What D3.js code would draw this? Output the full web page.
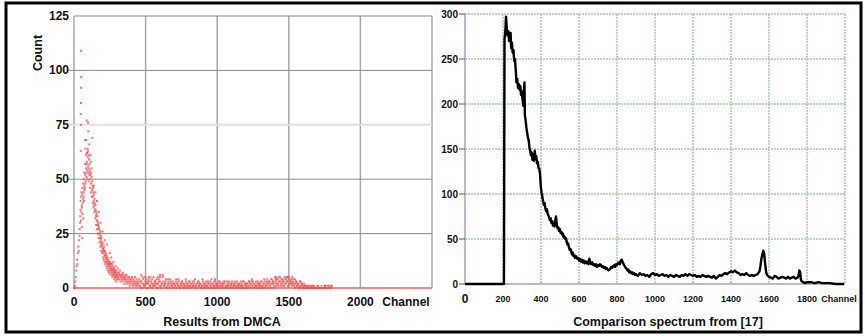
<!DOCTYPE html>
<html>
<head>
<meta charset="utf-8">
<script src="https://cdn.jsdelivr.net/npm/d3@7"></script>
<style>
  body { margin: 0; background: #fff; }
  text { font-family: "Liberation Sans", Arial, sans-serif; font-weight: bold; fill: #111; }
</style>
</head>
<body>
<div id="chart"></div>
<script>
// ---------- data: left panel (DMCA counts per channel) ----------
var dmcaTicksX = [0, 500, 1000, 1500, 2000];
var dmcaTicksY = [0, 25, 50, 75, 100, 125];
// counts for channels 0..450, every 3 channels
var peakStart = 0, peakStep = 3;
var peakCounts = [0, 0, 1, 3, 5, 8, 10, 13, 11, 16, 19, 17, 22, 24, 30, 36, 42, 35, 38, 43,
  34, 41, 44, 50, 47, 46, 52, 49, 55, 51, 58, 54, 60, 56, 53, 59, 52, 54, 50, 53,
  48, 51, 45, 47, 42, 44, 40, 38, 41, 36, 38, 33, 35, 31, 33, 29, 30, 27, 28, 25,
  23, 26, 22, 20, 23, 19, 21, 17, 18, 16, 19, 15, 17, 14, 16, 13, 15, 12, 14, 11,
  13, 10, 12, 9, 11, 10, 8, 11, 9, 7, 10, 8, 6, 9, 7, 8, 5, 7, 6, 8,
  5, 7, 4, 6, 5, 7, 4, 6, 3, 5, 6, 4, 5, 3, 6, 4, 5, 2, 4, 5,
  3, 4, 6, 2, 3, 5, 4, 2, 3, 5, 1, 4, 3, 2, 4, 5, 3, 1, 2, 4,
  3, 2, 5, 1, 3, 2, 4, 1, 2, 3, 2];
// counts for channels 40..298, every 3 channels (the in-between channels)
var peak2Start = 40, peak2Step = 3;
var peakCounts2 = [27, 33, 40, 31, 44, 37, 46, 39, 48, 42, 53, 45, 57, 48, 61, 53, 57, 62, 50, 63,
  55, 61, 49, 57, 46, 52, 44, 55, 42, 49, 39, 46, 37, 43, 35, 39, 32, 36, 29, 34,
  27, 31, 25, 29, 23, 27, 21, 25, 19, 24, 17, 21, 16, 20, 14, 18, 13, 17, 12, 15,
  11, 14, 10, 12, 9, 13, 8, 11, 7, 10, 8, 12, 6, 9, 7, 11, 5, 8, 6, 9,
  4, 7, 5, 8, 3, 6, 4];
// counts for channels 456..1800, every 6 channels
var tailStart = 456, tailStep = 6;
var tailCounts = [4, 1, 3, 0, 5, 2, 1, 3, 4, 2, 0, 3, 1, 5, 2, 4, 1, 2, 3,
  1, 4, 2, 0, 3, 5, 1, 2, 6, 3, 1, 2, 4, 0, 2, 3, 1, 4, 2, 1,
  3, 0, 2, 1, 4, 2, 1, 3, 0, 2, 1, 3, 2, 0, 1, 4, 2, 1, 0, 3,
  1, 2, 0, 3, 1, 2, 4, 1, 0, 2, 3, 1, 2, 0, 1, 3, 2, 1, 0, 2,
  1, 3, 0, 2, 1, 4, 2, 0, 1, 3, 2, 1, 0, 2, 3, 1, 0, 2, 1, 3,
  2, 0, 1, 3, 1, 2, 0, 1, 2, 3, 0, 1, 2, 1, 0, 3, 1, 2, 0, 1,
  2, 1, 3, 0, 2, 1, 0, 2, 1, 3, 2, 0, 4, 1, 2, 0, 1, 3, 1, 2,
  0, 2, 1, 3, 1, 0, 2, 3, 1, 2, 4, 1, 3, 2, 0, 4, 2, 3, 1, 5,
  3, 2, 4, 1, 5, 3, 2, 4, 1, 3, 5, 2, 4, 3, 1, 5, 2, 3, 4, 2,
  3, 1, 4, 2, 3, 1, 2, 0, 3, 1, 2, 1, 0, 2, 1, 0, 1, 0, 1, 0,
  0, 1, 0, 0, 1, 0, 0, 0, 1, 0, 0, 0, 0, 1, 0, 0, 0, 1, 0, 0,
  1, 0, 0, 0, 0, 1];
// counts for channels 459..1797, every 6 channels
var tail2Start = 459, tail2Step = 6;
var tailCounts2 = [1, 3, 0, 2, 4, 1, 5, 2, 0, 3, 2, 4, 1, 3, 0, 2, 5, 1, 3, 2,
  0, 2, 4, 1, 3, 0, 2, 5, 1, 2, 3, 0, 1, 4, 2, 0, 3, 1, 2, 0,
  2, 1, 3, 0, 2, 4, 1, 0, 2, 3, 1, 0, 2, 1, 3, 0, 2, 1, 3, 1,
  0, 2, 1, 3, 0, 1, 2, 0, 3, 1, 2, 0, 1, 4, 0, 2, 1, 3, 0, 1,
  2, 0, 3, 1, 0, 2, 1, 3, 0, 1, 2, 0, 1, 3, 2, 0, 1, 2, 0, 3,
  1, 0, 2, 1, 3, 0, 2, 1, 0, 2, 1, 3, 0, 2, 1, 0, 2, 1, 3, 0,
  1, 3, 0, 2, 1, 2, 0, 3, 1, 0, 2, 1, 3, 0, 2, 1, 0, 2, 3, 1,
  2, 0, 3, 1, 2, 4, 0, 1, 3, 2, 0, 3, 1, 4, 2, 3, 0, 2, 4, 1,
  4, 2, 3, 5, 1, 4, 2, 3, 1, 4, 2, 5, 3, 1, 4, 2, 3, 1, 2, 4,
  2, 0, 3, 1, 2, 0, 1, 3, 0, 2, 0, 1, 0, 1, 0, 0, 1, 0, 0, 1,
  0, 0, 1, 0, 0, 0, 0, 0, 1, 0, 0, 0, 0, 0, 0, 0, 1, 0, 0, 0,
  0, 0, 0, 1];
// extra points that stand apart from the main trend
var dmcaExtra = [[49, 109], [50, 97], [48, 92], [49, 85], [47, 80], [49, 75], [47, 63],
  [89, 77], [98, 76], [100, 72], [128, 69], [77, 68], [86, 68], [107, 66], [80, 64], [95, 64],
  [115, 61], [92, 62], [120, 58], [70, 40], [66, 32], [55, 28], [58, 23], [140, 47], [150, 44],
  [160, 40], [175, 35], [185, 30], [200, 26], [215, 22], [230, 20], [250, 16], [260, 14],
  [275, 12], [290, 10], [305, 9], [320, 8], [340, 7], [360, 6], [470, 6], [520, 5], [585, 5],
  [600, 6], [985, 4], [1240, 3], [1413, 5], [1488, 5], [1525, 5], [1670, 1], [1750, 1], [1780, 1]];

// ---------- data: right panel (comparison spectrum) ----------
var specTicksX = [0, 200, 400, 600, 800, 1000, 1200, 1400, 1600, 1800];
var specTicksY = [0, 50, 100, 150, 200, 250, 300];
var specChannels = [0, 100, 205, 208, 212, 216, 220, 224, 228, 232, 236, 240, 243, 247, 251, 255, 259, 263, 267, 271,
  275, 279, 283, 287, 291, 295, 299, 303, 307, 311, 313, 315, 319, 323, 327, 331, 335, 339, 343, 347,
  351, 355, 359, 363, 367, 371, 375, 379, 383, 387, 391, 395, 399, 403, 407, 411, 415, 419, 423, 427,
  431, 435, 439, 443, 447, 451, 455, 459, 463, 467, 471, 475, 479, 483, 487, 491, 495, 499, 503, 507,
  511, 515, 519, 523, 527, 531, 535, 539, 543, 547, 551, 555, 559, 563, 567, 571, 575, 579, 583, 587,
  591, 595, 600, 605, 610, 615, 620, 625, 630, 635, 640, 645, 650, 655, 660, 665, 670, 675, 680, 685,
  690, 695, 700, 705, 710, 715, 720, 725, 730, 735, 740, 745, 750, 755, 760, 765, 770, 775, 780, 785,
  790, 795, 800, 805, 810, 815, 820, 825, 830, 835, 840, 845, 850, 855, 860, 865, 870, 875, 880, 885,
  890, 895, 900, 910, 920, 930, 940, 950, 960, 970, 980, 990, 1000, 1010, 1020, 1030, 1040, 1050, 1060, 1070,
  1080, 1090, 1100, 1110, 1120, 1130, 1140, 1150, 1160, 1170, 1180, 1190, 1200, 1210, 1220, 1230, 1240, 1250, 1260, 1270,
  1280, 1290, 1300, 1310, 1320, 1330, 1340, 1350, 1360, 1370, 1380, 1390, 1400, 1410, 1420, 1430, 1440, 1450, 1460, 1470,
  1480, 1490, 1500, 1510, 1520, 1530, 1540, 1550, 1555, 1560, 1565, 1570, 1575, 1580, 1585, 1590, 1600, 1610, 1620, 1630,
  1640, 1650, 1660, 1670, 1680, 1690, 1700, 1710, 1720, 1730, 1740, 1750, 1755, 1760, 1764, 1768, 1772, 1780, 1790, 1800,
  1820, 1840, 1860, 1880, 1900, 1920, 1950, 1995];
var specCounts = [0, 0, 0, 272, 280, 297, 283, 276, 281, 270, 274, 279, 262, 268, 257, 260, 248, 250, 238, 224,
  228, 218, 222, 216, 220, 210, 214, 205, 198, 219, 224, 188, 182, 174, 168, 163, 160, 152, 148, 143,
  146, 138, 144, 137, 148, 139, 142, 134, 136, 129, 128, 122, 108, 102, 97, 92, 88, 90, 84, 81,
  83, 78, 76, 74, 71, 73, 68, 70, 65, 67, 64, 70, 75, 66, 62, 63, 59, 61, 57, 58,
  55, 56, 52, 53, 50, 51, 47, 44, 45, 41, 38, 39, 36, 33, 35, 31, 32, 29, 31, 30,
  28, 29, 26, 28, 25, 27, 24, 26, 23, 25, 23, 25, 22, 28, 23, 22, 24, 21, 22, 20,
  22, 19, 21, 20, 22, 21, 19, 20, 18, 19, 17, 18, 16, 15, 16, 17, 19, 18, 20, 21,
  19, 22, 21, 23, 24, 22, 26, 27, 24, 22, 20, 18, 17, 15, 16, 13, 14, 12, 13, 11,
  12, 10, 11, 9, 12, 10, 11, 9, 10, 8, 11, 12, 10, 11, 9, 10, 11, 9, 10, 8,
  10, 9, 8, 10, 9, 8, 10, 9, 11, 9, 11, 10, 9, 10, 8, 9, 8, 10, 9, 8,
  9, 8, 7, 9, 6, 8, 10, 9, 11, 12, 11, 13, 14, 13, 15, 13, 12, 10, 11, 10,
  12, 10, 9, 10, 9, 10, 11, 14, 20, 28, 33, 37, 33, 22, 13, 10, 8, 7, 6, 9,
  8, 6, 7, 8, 7, 6, 8, 6, 7, 8, 6, 7, 9, 15, 13, 5, 3, 2, 1, 2,
  2, 1, 2, 1, 1, 1, 0, 0];

// ---------- svg + frame ----------
var svgWidth = 865, svgHeight = 336;
var svg = d3.select("#chart").append("svg")
  .attr("width", svgWidth)
  .attr("height", svgHeight);

svg.append("rect")
  .attr("x", 6).attr("y", 3)
  .attr("width", 855).attr("height", 329)
  .attr("fill", "#fff")
  .attr("stroke", "#000")
  .attr("stroke-width", 3);

// ================= left panel =================
var xL = d3.scaleLinear().domain([0, 2500]).range([74, 432]);
var yL = d3.scaleLinear().domain([0, 125]).range([288, 16]);
var left = svg.append("g");

// vertical grid
left.selectAll(".vgrid")
  .data(dmcaTicksX.concat([2500]))
  .join("line")
  .attr("x1", d => xL(d)).attr("x2", d => xL(d))
  .attr("y1", yL(125)).attr("y2", yL(0))
  .attr("stroke", "#a8a8a8")
  .attr("stroke-width", 1.5);

// horizontal grid, 75 line is a lighter wide one
left.selectAll(".hgrid")
  .data(dmcaTicksY)
  .join("line")
  .attr("x1", d => (d > 0 && d < 125) ? xL(0) - 7 : xL(0))
  .attr("x2", xL(2500))
  .attr("y1", d => yL(d)).attr("y2", d => yL(d))
  .attr("stroke", d => d === 75 ? "#e0e0e0" : (d === 0 ? "none" : "#8a8a8a"))
  .attr("stroke-width", d => d === 75 ? 2 : 1);

// zero-count channels sit on the baseline
left.append("line")
  .attr("x1", xL(0)).attr("x2", xL(2500))
  .attr("y1", yL(0)).attr("y2", yL(0))
  .attr("stroke", "#ff5a5a")
  .attr("stroke-width", 1.5);

// points
var dmcaPoints = [];
peakCounts.forEach((c, i) => dmcaPoints.push([peakStart + i * peakStep, c]));
peakCounts2.forEach((c, i) => dmcaPoints.push([peak2Start + i * peak2Step, c]));
tailCounts.forEach((c, i) => dmcaPoints.push([tailStart + i * tailStep, c]));
tailCounts2.forEach((c, i) => dmcaPoints.push([tail2Start + i * tail2Step, c]));
dmcaExtra.forEach(p => dmcaPoints.push(p));

left.selectAll(".dot")
  .data(dmcaPoints)
  .join("rect")
  .attr("x", d => xL(d[0]) - 1)
  .attr("y", d => yL(d[1]) - 1)
  .attr("width", 2).attr("height", 2)
  .attr("fill", "#ff4d4d")
  .attr("opacity", 0.8);

// tick labels
left.selectAll(".ylab")
  .data(dmcaTicksY)
  .join("text")
  .attr("x", 69)
  .attr("y", d => yL(d) + 4)
  .attr("text-anchor", "end")
  .style("font-size", "12px")
  .text(d => d);

left.selectAll(".xlab")
  .data(dmcaTicksX)
  .join("text")
  .attr("x", d => xL(d))
  .attr("y", 306)
  .attr("text-anchor", "middle")
  .style("font-size", "12px")
  .text(d => d);

left.append("text")
  .attr("x", 406).attr("y", 306)
  .attr("text-anchor", "middle")
  .style("font-size", "12px")
  .text("Channel");

left.append("text")
  .attr("x", 222).attr("y", 326)
  .attr("text-anchor", "middle")
  .style("font-size", "12.5px")
  .text("Results from DMCA");

left.append("text")
  .attr("transform", "translate(42, 53) rotate(-90)")
  .attr("text-anchor", "middle")
  .style("font-size", "12.5px")
  .text("Count");

// ================= right panel =================
var xR = d3.scaleLinear().domain([0, 2000]).range([465, 845]);
var yR = d3.scaleLinear().domain([0, 300]).range([284, 14]);
var right = svg.append("g");

right.selectAll(".vgrid")
  .data(specTicksX.slice(1).concat([2000]))
  .join("line")
  .attr("x1", d => xR(d)).attr("x2", d => xR(d))
  .attr("y1", yR(300)).attr("y2", yR(0))
  .attr("stroke", "#a9c9a9")
  .attr("stroke-width", 1.5)
  .attr("stroke-dasharray", "2,1");

right.selectAll(".hgrid")
  .data(specTicksY.slice(1))
  .join("line")
  .attr("x1", xR(0)).attr("x2", xR(2000))
  .attr("y1", d => yR(d)).attr("y2", d => yR(d))
  .attr("stroke", "#a9c9a9")
  .attr("stroke-width", 1.5)
  .attr("stroke-dasharray", "2,1");

// axes lines and ticks
right.append("line")
  .attr("x1", xR(0)).attr("x2", xR(0))
  .attr("y1", yR(300)).attr("y2", yR(0))
  .attr("stroke", "#9aa6b8").attr("stroke-width", 1.5);
right.append("line")
  .attr("x1", xR(0)).attr("x2", xR(2000))
  .attr("y1", yR(0)).attr("y2", yR(0))
  .attr("stroke", "#9aa6b8").attr("stroke-width", 1.5);
right.selectAll(".ytick")
  .data(specTicksY)
  .join("line")
  .attr("x1", xR(0) - 6).attr("x2", xR(0))
  .attr("y1", d => yR(d)).attr("y2", d => yR(d))
  .attr("stroke", "#555").attr("stroke-width", 1);

// spectrum line
var specLine = d3.line()
  .x((d, i) => xR(specChannels[i]))
  .y(d => yR(d));
right.append("path")
  .datum(specCounts)
  .attr("d", specLine)
  .attr("fill", "none")
  .attr("stroke", "#000")
  .attr("stroke-width", 2.4)
  .attr("stroke-linejoin", "round");

// labels
right.selectAll(".ylab")
  .data(specTicksY)
  .join("text")
  .attr("x", 458)
  .attr("y", d => yR(d) + 3.5)
  .attr("text-anchor", "end")
  .style("font-size", "10px")
  .text(d => d);

right.selectAll(".xlab")
  .data(specTicksX)
  .join("text")
  .attr("x", d => xR(d))
  .attr("y", d => d === 0 ? 303 : 302)
  .attr("text-anchor", "middle")
  .style("font-size", d => d === 0 ? "12px" : "9px")
  .text(d => d);

right.append("text")
  .attr("x", 839).attr("y", 302)
  .attr("text-anchor", "middle")
  .style("font-size", "9px")
  .text("Channel");

right.append("text")
  .attr("x", 668).attr("y", 326)
  .attr("text-anchor", "middle")
  .style("font-size", "12.5px")
  .text("Comparison spectrum from [17]");
</script>
</body>
</html>
